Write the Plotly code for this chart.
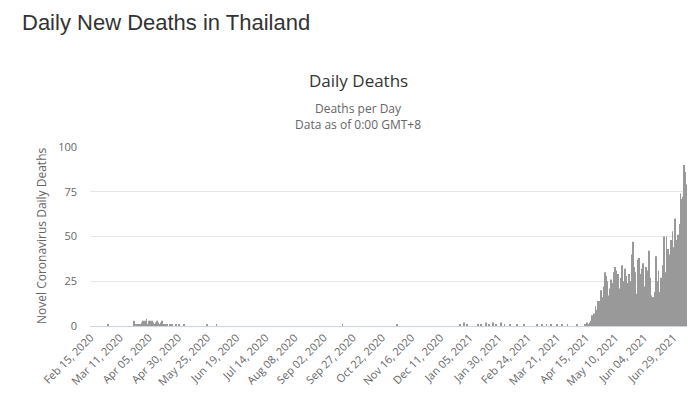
import plotly.graph_objects as go
import pandas as pd

# ---- data ----
start_date = "2020-02-15"
end_date = "2021-07-10"

# isolated small daily death counts (all other days before the surge are 0)
sparse_deaths = {
    "2020-03-01": 1,
    "2020-03-23": 3, "2020-03-25": 1, "2020-03-27": 1, "2020-03-28": 1,
    "2020-03-29": 1, "2020-03-30": 2, "2020-03-31": 3, "2020-04-01": 2,
    "2020-04-02": 3, "2020-04-03": 4, "2020-04-04": 1, "2020-04-05": 3,
    "2020-04-06": 3, "2020-04-07": 1, "2020-04-08": 3, "2020-04-09": 2,
    "2020-04-10": 1, "2020-04-11": 2, "2020-04-12": 3, "2020-04-13": 2,
    "2020-04-14": 1, "2020-04-15": 2, "2020-04-16": 3, "2020-04-17": 1,
    "2020-04-19": 1, "2020-04-20": 1, "2020-04-21": 1, "2020-04-23": 1,
    "2020-04-25": 1, "2020-04-28": 1, "2020-05-01": 1, "2020-05-05": 1,
    "2020-05-25": 1, "2020-06-02": 1, "2020-09-18": 1, "2020-11-04": 1,
    "2020-12-28": 1, "2020-12-31": 2, "2021-01-03": 1, "2021-01-12": 1,
    "2021-01-15": 1, "2021-01-19": 2, "2021-01-22": 1, "2021-01-25": 2,
    "2021-01-28": 1, "2021-02-01": 2, "2021-02-04": 1, "2021-02-09": 1,
    "2021-02-15": 1, "2021-02-21": 1, "2021-03-04": 1, "2021-03-08": 1,
    "2021-03-12": 1, "2021-03-16": 1, "2021-03-21": 1, "2021-03-25": 1,
    "2021-03-30": 1, "2021-04-07": 1,
}

# third wave, one value per day from surge_start to end_date
surge_start = "2021-04-14"
surge_deaths = [
    1, 0, 2, 1, 2, 3, 6, 4, 7, 11,
    9, 14, 14, 12, 20, 16, 22, 30, 28, 25,
    17, 21, 26, 16, 24, 30, 33, 31, 29, 21,
    16, 27, 34, 25, 32, 28, 24, 17, 29, 25,
    40, 47, 33, 30, 18, 37, 38, 25, 29, 32,
    35, 22, 33, 25, 31, 42, 27, 17, 16, 16,
    19, 39, 25, 31, 19, 27, 24, 34, 50, 30,
    50, 43, 40, 23, 48, 53, 44, 60, 40, 48,
    51, 57, 74, 71, 72, 90, 86, 79,
]

y_ticks = [0, 25, 50, 75, 100]
tick_every = 25

# ---- build series ----
dates = pd.date_range(start_date, end_date, freq="D")
cats = [d.strftime("%Y-%m-%d") for d in dates]
vals = {c: 0 for c in cats}
for k, v in sparse_deaths.items():
    vals[k] = v
for i, v in enumerate(surge_deaths):
    d = (pd.Timestamp(surge_start) + pd.Timedelta(days=i)).strftime("%Y-%m-%d")
    vals[d] = v
y = [vals[c] for c in cats]

tickvals = cats[::tick_every]
ticktext = [pd.Timestamp(c).strftime("%b %d, %Y") for c in tickvals]

W, H = 700, 409
L, R, T, B = 90, 13, 147, 83
pw, ph = W - L - R, H - T - B


def px(x):
    return (x - L) / pw


def py(yy):
    return (H - B - yy) / ph


fig = go.Figure(go.Bar(x=cats, y=y, marker_color="#999999",
                       marker_line_width=0, hoverinfo="x+y"))

font_main = "Open Sans, Liberation Sans, Arial, sans-serif"

fig.update_layout(
    width=W, height=H,
    margin=dict(l=L, r=R, t=T, b=B, pad=0),
    paper_bgcolor="white", plot_bgcolor="white",
    bargap=0.3, showlegend=False,
    font=dict(family=font_main, color="#666666"),
    xaxis=dict(type="category", tickvals=tickvals, ticktext=ticktext,
               tickangle=-45, tickfont=dict(size=11, color="#666666"),
               showgrid=False, showline=True, linecolor="#ccd6eb",
               linewidth=1, ticks="", range=[-0.5, len(cats) - 0.5]),
    yaxis=dict(range=[0, 100], tickvals=y_ticks, showgrid=True,
               gridcolor="#e6e6e6", zeroline=False, showline=False,
               tickfont=dict(size=11, color="#666666"), ticks="",
               ticklabelstandoff=12),
    annotations=[
        dict(text="Daily New Deaths in Thailand", xref="paper", yref="paper",
             x=px(20), y=py(22), xanchor="left", yanchor="middle",
             showarrow=False,
             font=dict(family="Liberation Sans, Arial, sans-serif",
                       size=22, color="#333333")),
        dict(text="Daily Deaths", xref="paper", yref="paper",
             x=px(358), y=py(80), xanchor="center", yanchor="middle",
             showarrow=False, font=dict(size=17, color="#333333")),
        dict(text="Deaths per Day<br>Data as of 0:00 GMT+8",
             xref="paper", yref="paper",
             x=px(358), y=py(116.5), xanchor="center", yanchor="middle",
             showarrow=False, font=dict(size=12, color="#666666")),
        dict(text="Novel Coronavirus Daily Deaths", xref="paper", yref="paper",
             x=px(41), y=py(236), xanchor="center", yanchor="middle",
             textangle=-90, showarrow=False,
             font=dict(size=12, color="#666666")),
    ],
)

fig.write_html("out.html")
